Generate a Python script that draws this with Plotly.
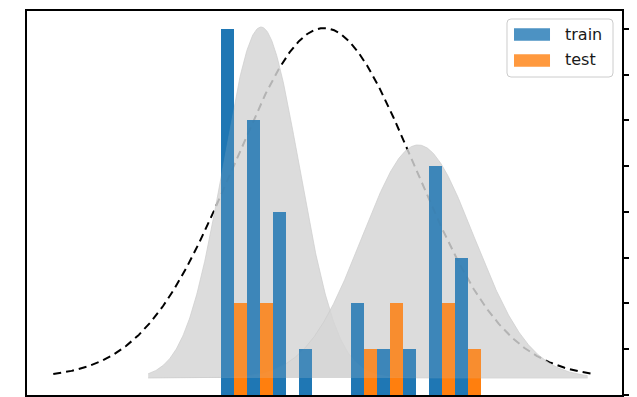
import numpy as np
import plotly.graph_objects as go

# Histogram bins (left edges, unit width) and counts per split
bin_left = [0, 1, 2, 3, 4, 5, 6, 7, 8, 9]
train_counts = [8, 6, 4, 1, 0, 2, 1, 1, 5, 3]
test_counts = [2, 2, 0, 0, 0, 1, 2, 0, 2, 1]

# Per-cluster normal curves (shaded) and the overall normal curve (dashed)
cluster_mean = [1.54, 7.58]
cluster_sd = [1.46, 2.15]
cluster_peak = [1.0, 0.664]
cluster_span = [-2.8, 14.1]

overall_mean = 3.96
overall_sd = 3.48
overall_peak = 0.997
overall_span = [-6.45, 14.25]

BLUE = "#1f77b4"
ORANGE = "#ff7f0e"
COUNT_RANGE = [0, 8.39]


def bell(x, mean, sd, peak):
    return peak * np.exp(-0.5 * ((x - mean) / sd) ** 2)


fig = go.Figure()
centers = [b + 0.5 for b in bin_left]

# Solid bars underneath everything
for counts, col, name in [(train_counts, BLUE, "train"), (test_counts, ORANGE, "test")]:
    fig.add_trace(go.Bar(x=centers, y=counts, name=name, marker_color=col,
                         marker_line_width=0, yaxis="y", showlegend=False))

# Dashed overall curve, then the shaded cluster curves over it
xo = np.linspace(overall_span[0], overall_span[1], 800)
fig.add_trace(go.Scatter(x=xo, y=bell(xo, overall_mean, overall_sd, overall_peak),
                         mode="lines", line=dict(color="black", width=2, dash="8px,5px"),
                         yaxis="y2", showlegend=False))

xs = np.linspace(cluster_span[0], cluster_span[1], 600)
for m, s, p in zip(cluster_mean, cluster_sd, cluster_peak):
    fig.add_trace(go.Scatter(x=xs, y=bell(xs, m, s, p), mode="lines", fill="tozeroy",
                             fillcolor="rgba(213,213,213,0.84)",
                             line=dict(width=0.8, color="rgba(205,205,205,0.9)"),
                             yaxis="y2", showlegend=False, hoverinfo="skip"))

# Semi-transparent bars on top of the shading
for counts, col, name in [(train_counts, BLUE, "train"), (test_counts, ORANGE, "test")]:
    fig.add_trace(go.Bar(x=centers, y=counts, name=name, marker_color=col,
                         opacity=0.8, marker_line_width=0, yaxis="y3",
                         showlegend=False))

# Legend drawn as a rounded box with wide colour patches
W, H = 595.0, 384.0
x0, x1 = 0.8067, 0.9849
y0, y1 = 0.8281, 0.9792
rx, ry = 4 / W, 4 / H
box = (f"M {x0+rx},{y1} L {x1-rx},{y1} Q {x1},{y1} {x1},{y1-ry} "
       f"L {x1},{y0+ry} Q {x1},{y0} {x1-rx},{y0} L {x0+rx},{y0} "
       f"Q {x0},{y0} {x0},{y0+ry} L {x0},{y1-ry} Q {x0},{y1} {x0+rx},{y1} Z")
shapes = [
    dict(type="path", path=box, xref="paper", yref="paper",
         line=dict(color="#cccccc", width=1), fillcolor="rgba(255,255,255,0.8)"),
    dict(type="rect", xref="paper", yref="paper", x0=0.8185, x1=0.879,
         y0=0.9227, y1=0.955, line=dict(width=0), fillcolor="rgba(31,119,180,0.8)"),
    dict(type="rect", xref="paper", yref="paper", x0=0.8185, x1=0.879,
         y0=0.855, y1=0.8872, line=dict(width=0), fillcolor="rgba(255,127,14,0.8)"),
]
font = dict(family="DejaVu Sans", size=16, color="#1a1a1a")
annotations = [
    dict(text="train", xref="paper", yref="paper", x=0.901, y=0.9401,
         xanchor="left", yanchor="middle", showarrow=False, font=font),
    dict(text="test", xref="paper", yref="paper", x=0.901, y=0.8724,
         xanchor="left", yanchor="middle", showarrow=False, font=font),
]

fig.update_layout(
    width=637, height=397,
    margin=dict(l=27, r=15, t=11, b=2),
    paper_bgcolor="white", plot_bgcolor="white",
    barmode="group", bargap=0, bargroupgap=0,
    showlegend=False,
    shapes=shapes, annotations=annotations,
    xaxis=dict(range=[-7.46, 15.42], showgrid=False, zeroline=False,
               showline=True, mirror=True, linecolor="black", linewidth=1.5,
               ticks="", showticklabels=False),
    yaxis=dict(range=COUNT_RANGE, side="right", showgrid=False, zeroline=False,
               showline=True, mirror=True, linecolor="black", linewidth=1.5,
               ticks="outside", ticklen=5, tickwidth=1.5, tickcolor="black",
               tickvals=[0, 1, 2, 3, 4, 5, 6, 7, 8], showticklabels=False),
    yaxis2=dict(range=[-0.0484, 1.0456], overlaying="y", visible=False),
    yaxis3=dict(range=COUNT_RANGE, overlaying="y", visible=False),
)

fig.write_html("out.html")
